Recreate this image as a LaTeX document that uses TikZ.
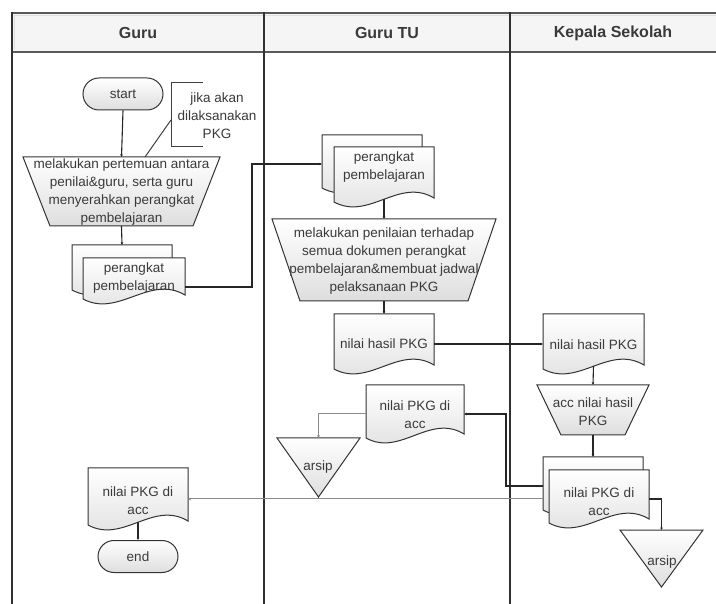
\documentclass[tikz,border=0pt]{standalone}
\usepackage{fontspec}
\setmainfont{Liberation Sans}
\usetikzlibrary{calc,arrows.meta}
\definecolor{txtc}{HTML}{3A3A3A}
\definecolor{lanec}{HTML}{303030}
\newcommand\docshape[1]{%
  \path[shp] let \p1=(#1.north west), \p2=(#1.south east), \n1={\x2-\x1} in
    (\p1) -- (\x2,\y1) -- (\x2,\y2+9pt)
    .. controls (\x2-0.35*\n1,\y2+30pt) and (\x1+0.35*\n1,\y2-14pt) .. (\x1,\y2+5pt) -- cycle;}
\newcommand\trapshape[2]{%
  \path[shp] (#1.north west) -- (#1.north east) -- ([xshift=-#2]#1.south east) -- ([xshift=#2]#1.south west) -- cycle;}
\newcommand\trishape[1]{%
  \path[shp] (#1.north west) -- (#1.north east) -- (#1.south) -- cycle;}
\begin{document}
\begin{tikzpicture}[x=1pt,y=-1pt,
  sbox/.style 2 args={rectangle,inner sep=0pt,outer sep=0pt,minimum width=#1,minimum height=#2},
  shp/.style={draw=black!80,line width=1pt,top color=white,bottom color=black!13},
  txt/.style={font=\fontsize{13.5}{18}\selectfont,text=txtc,align=center,inner sep=0pt},
  hdr/.style={font=\fontsize{16}{18}\selectfont\bfseries,text=txtc,inner sep=0pt},
  term/.style={shp,rounded corners=16pt,inner sep=0pt,minimum width=#1,minimum height=32pt,font=\fontsize{13.5}{18}\selectfont,text=txtc},
  lane/.style={draw=lanec,line width=1.8pt},
  hline/.style={draw=black!65,line width=2pt},
  conn/.style={draw=black!85,line width=1.1pt},
  gconn/.style={draw=black!45,line width=1pt},
  arr/.style={-{Latex[length=2.5pt,width=3pt]}}
]
\useasboundingbox (0,0) rectangle (716,604);
\clip (0,0) rectangle (716,604);
\fill[white] (0,0) rectangle (716,604);
% header and lanes
\fill[black!4] (12,13) rectangle (720,52);
\draw[black!12,line width=1.5pt] (14.5,50) -- (14.5,15.5) -- (720,15.5);
\draw[hline] (12,13) -- (720,13);
\draw[hline] (12,52) -- (720,52);
\draw[lane] (12,604) -- (12,12);
\draw[lane] (264,12) -- (264,604);
\draw[lane] (510,12) -- (510,604);
\node[hdr] (h1) at (138,33) {Guru};
\node[hdr] (h2) at (387,33) {Guru TU};
\node[hdr] (h3) at (613,33) {Kepala Sekolah};

% shape boxes
\node[sbox={197pt}{69pt}] (t1) at (121.5,191.5) {};
\node[sbox={100pt}{50pt}] (md1b) at (122,270) {};
\node[sbox={102pt}{46pt}] (md1f) at (134,281) {};
\node[sbox={100pt}{58pt}] (md2b) at (372,164) {};
\node[sbox={100pt}{60pt}] (md2f) at (384,177) {};
\node[sbox={224pt}{82pt}] (t2) at (384,260) {};
\node[sbox={100pt}{60pt}] (d3) at (384,344) {};
\node[sbox={101pt}{60pt}] (d4) at (593.5,344) {};
\node[sbox={112pt}{50pt}] (t3) at (593,410) {};
\node[sbox={100pt}{58pt}] (md5b) at (593,486) {};
\node[sbox={100pt}{58pt}] (md5f) at (599,499) {};
\node[sbox={98pt}{58pt}] (d6) at (415,414) {};
\node[sbox={83pt}{59pt}] (tri1) at (318.5,467.5) {};
\node[sbox={83pt}{57pt}] (tri2) at (661.5,558.5) {};
\node[sbox={100pt}{62pt}] (d7) at (138,499) {};

\trapshape{t1}{27pt}
\docshape{md1b}
\docshape{md1f}
\docshape{md2b}
\docshape{md2f}
\trapshape{t2}{28pt}
\docshape{d3}
\docshape{d4}
\trapshape{t3}{24pt}
\docshape{md5b}
\docshape{md5f}
\docshape{d6}
\trishape{tri1}
\trishape{tri2}
\docshape{d7}

\node[term=80pt] (start) at (123,94) {start};
\node[term=80pt] (end) at (138,556.5) {end};

% annotation
\coordinate (a1) at (203,83);
\coordinate (a2) at (171,83);
\coordinate (a3) at (171,147);
\coordinate (a4) at (203,147);
\coordinate (a5) at (171,120);
\draw[draw=black!75,line width=1pt] (a1) -- (a2) -- (a3) -- (a4);
\draw[draw=black!75,line width=1pt] (a5) -- ([xshift=23.5pt]t1.north);
\node[txt] (ann) at (217,116) {jika akan\\dilaksanakan\\PKG};

% connectors
\coordinate (b1) at (252,164);
\coordinate (b2) at (506,486);
\draw[conn,arr] (start.south) -- (t1.north);
\draw[conn,arr] (t1.south) -- (md1b.north);
\draw[conn,arr] ([yshift=-6pt]md1f.east) -| (b1) -- (md2b.west);
\draw[conn,arr] ([yshift=8pt]md2f.south) -- (t2.north);
\draw[conn,arr] (t2.south) -- (d3.north);
\draw[conn,arr] (d3.east) -- (d4.west);
\draw[conn,arr] ([yshift=8pt]d4.south) -- (t3.north);
\draw[conn,arr] (t3.south) -- (md5b.north);
\draw[conn,arr] (md5b.west) -- (b2) |- (d6.east);
\draw[gconn,arr] (d6.west) -| (tri1.north);
\draw[conn,arr] (md5f.east) -| (tri2.north);
\draw[gconn,arr] ([yshift=-13pt]md5b.west) -- (d7.east);
\draw[conn,arr] ([yshift=8pt]d7.south) -- (end.north);

% texts
\node[txt] (t1t) at (121.5,192) {melakukan pertemuan antara\\penilai\&guru, serta guru\\menyerahkan perangkat\\pembelajaran};
\node[txt] (md1t) at (134,278) {perangkat\\pembelajaran};
\node[txt] (md2t) at (384,167.5) {perangkat\\pembelajaran};
\node[txt] (t2t) at (384,261.5) {melakukan penilaian terhadap\\semua dokumen perangkat\\pembelajaran\&membuat jadwal\\pelaksanaan PKG};
\node[txt] (d3t) at (384,344) {nilai hasil PKG};
\node[txt] (d4t) at (593.5,345) {nilai hasil PKG};
\node[txt] (t3t) at (593,412) {acc nilai hasil\\PKG};
\node[txt] (md5t) at (599,502) {nilai PKG di\\acc};
\node[txt] (d6t) at (415,415) {nilai PKG di\\acc};
\node[txt] (tri1t) at (318,467) {arsip};
\node[txt] (tri2t) at (662,562) {arsip};
\node[txt] (d7t) at (138,501) {nilai PKG di\\acc};
\end{tikzpicture}
\end{document}
